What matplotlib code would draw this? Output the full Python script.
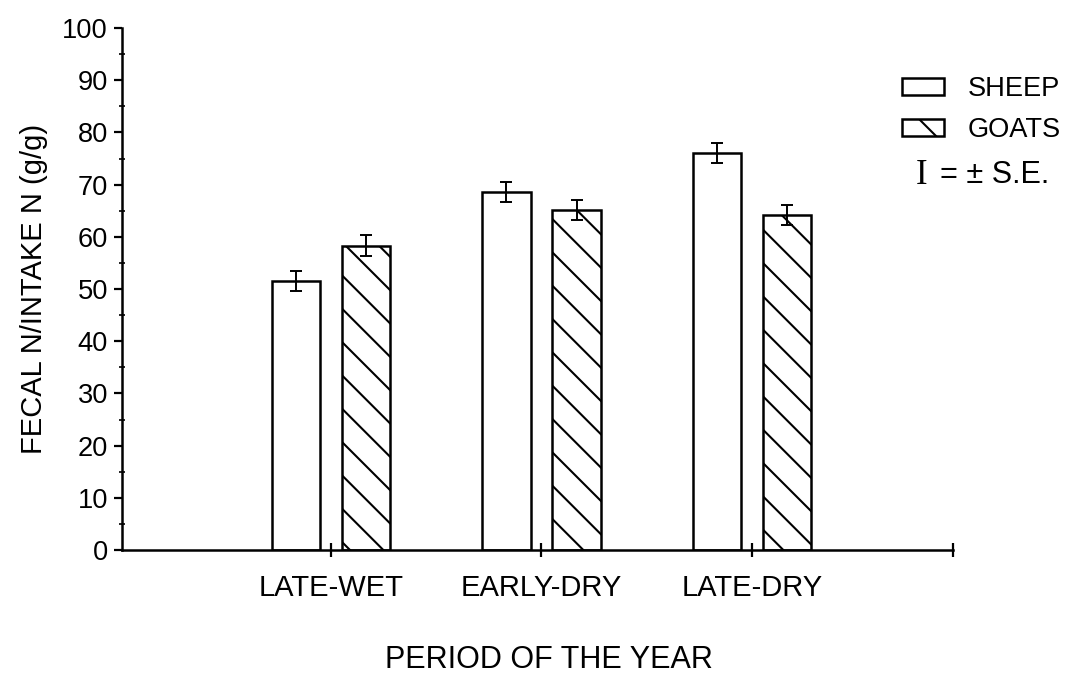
import matplotlib
matplotlib.use("Agg")
import matplotlib.pyplot as plt
from matplotlib.patches import Patch
from matplotlib.ticker import MultipleLocator
import numpy as np

periods = ["LATE-WET", "EARLY-DRY", "LATE-DRY"]
sheep = [51.5, 68.6, 76.1]
goats = [58.3, 65.1, 64.1]
sheep_se = [1.9, 1.9, 1.9]
goats_se = [2.0, 1.9, 1.9]

DPI = 200
plt.rcParams['font.family'] = ['Liberation Sans', 'DejaVu Sans']
plt.rcParams['hatch.linewidth'] = 0.75
plt.rcParams['hatch.color'] = 'black'

fig = plt.figure(figsize=(1072 / DPI, 675 / DPI), dpi=DPI)
ax = fig.add_axes([122 / 1072, 1 - 550 / 675, (953 - 122) / 1072, (550 - 28) / 675])

x = np.arange(len(periods))
w = 0.23
off = 0.167
ax.bar(x - off, sheep, w, color='white', edgecolor='black', linewidth=0.9, zorder=2)
ax.bar(x + off, goats, w, color='white', edgecolor='black', linewidth=0.9,
       hatch='\\\\', zorder=2)
ax.errorbar(x - off, sheep, yerr=sheep_se, fmt='none', ecolor='black',
            elinewidth=0.7, capsize=2, capthick=0.7, zorder=3)
ax.errorbar(x + off, goats, yerr=goats_se, fmt='none', ecolor='black',
            elinewidth=0.7, capsize=2, capthick=0.7, zorder=3)

xmin, xmax = -0.993, 2.955
ax.set_xlim(xmin, xmax)
ax.set_ylim(0, 100)
ax.spines['top'].set_visible(False)
ax.spines['right'].set_visible(False)
for s in ('left', 'bottom'):
    ax.spines[s].set_linewidth(0.9)

ax.set_xticks(list(x) + [xmax])
ax.set_xticklabels(periods + [""], fontsize=10.5)
ax.tick_params(axis='x', direction='inout', length=5, width=0.8, pad=6)

ax.yaxis.set_major_locator(MultipleLocator(10))
ax.yaxis.set_minor_locator(MultipleLocator(5))
ax.tick_params(axis='y', which='major', direction='out', length=3, width=0.8,
               pad=2, labelsize=9.8)
ax.tick_params(axis='y', which='minor', direction='inout', length=2, width=0.6)

ax.set_ylabel("FECAL N/INTAKE N (g/g)", fontsize=10.5, labelpad=5)
ax.text(0.514, -0.211, "PERIOD OF THE YEAR", transform=ax.transAxes,
        ha='center', va='center', fontsize=11)

handles = [Patch(facecolor='white', edgecolor='black', linewidth=0.9, label='SHEEP'),
           Patch(facecolor='white', edgecolor='black', linewidth=0.9, hatch='\\',
                 label='GOATS')]
fig.legend(handles=handles, loc='upper left', bbox_to_anchor=(902 / 1072, 1 - 76 / 675),
           frameon=False, fontsize=9.8, handlelength=1.55, handleheight=0.6,
           handletextpad=0.85, labelspacing=0.55, borderpad=0, borderaxespad=0)

fig.text(916 / 1072, 1 - 175 / 675, "I", family=['Liberation Serif', 'DejaVu Serif'],
         fontsize=12.5, ha='left', va='center')
fig.text(940 / 1072, 1 - 175 / 675, "= ± S.E.", fontsize=11, ha='left', va='center')

fig.savefig("out.png", dpi=DPI)
